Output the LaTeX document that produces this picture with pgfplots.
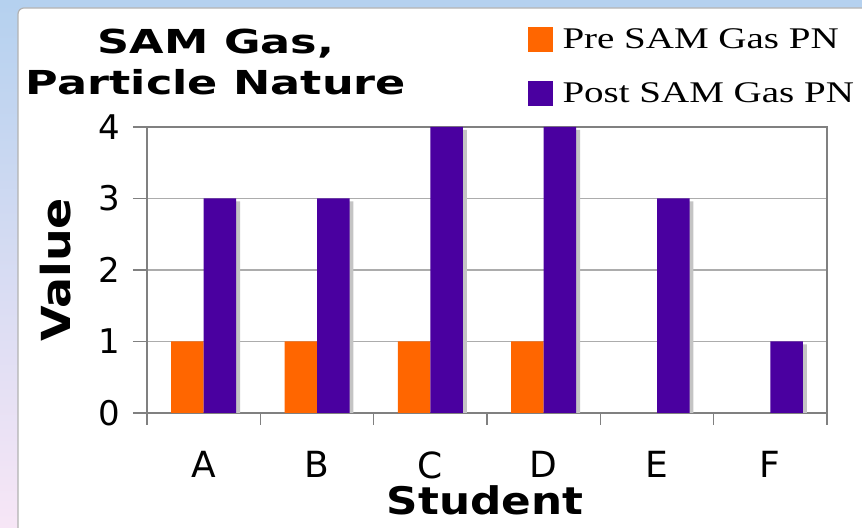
\documentclass[border=0pt]{standalone}
\usepackage{fontspec}
\usepackage{pgfplots}
\pgfplotsset{compat=1.18}
\newfontfamily\titlefont{DejaVu Sans}[FakeStretch=1.35]
\newfontfamily\labelfont{DejaVu Sans}[FakeStretch=1.15]
\newfontfamily\tickfont{DejaVu Sans}
\newfontfamily\legfont{Liberation Serif}[FakeStretch=1.3]
\definecolor{preorange}{HTML}{FF6600}
\definecolor{postpurple}{HTML}{4A00A0}
\definecolor{shadowgray}{HTML}{C4C4C4}
\definecolor{bgblue}{HTML}{B5D1EF}
\definecolor{bgpink}{HTML}{F7E6F6}
\begin{document}
\begin{tikzpicture}
\path[use as bounding box] (0,0) rectangle (431pt,264pt);
\begin{scope}
\clip (0,0) rectangle (431pt,264pt);
\shade[top color=bgblue, bottom color=bgpink] (0,0) rectangle (431pt,264pt);
\fill[bgblue] (0,260pt) rectangle (431pt,264pt);
\filldraw[fill=white, draw=gray!60, line width=0.6pt, rounded corners=3pt] (9pt,-5pt) rectangle (440pt,260pt);
\end{scope}
\node[font=\titlefont\bfseries\fontsize{16.5}{20.5}\selectfont, align=center] at (108pt,233pt) {SAM Gas,\\Particle Nature};
\begin{axis}[
  at={(73.5pt,57.5pt)}, anchor=south west,
  scale only axis, width=340pt, height=143pt,
  ymin=0, ymax=4, xmin=-0.5, xmax=5.5,
  ybar, bar width=16.25pt,
  ytick={0,1,2,3,4},
  xtick={0,1,2,3,4,5}, xticklabels={A,B,C,D,E,F},
  minor xtick={-0.5,0.5,1.5,2.5,3.5,4.5,5.5},
  /pgf/number format/assume math mode=true,
  tick align=outside, xtick pos=bottom, ytick pos=left,
  major x tick style={draw=none},
  minor x tick style={gray, line width=0.6pt},
  major y tick style={gray, line width=0.6pt},
  major tick length=7pt, minor tick length=6pt,
  ymajorgrids, grid style={color=gray!65, line width=0.6pt},
  axis line style={gray, line width=0.7pt},
  xticklabel style={font=\tickfont\fontsize{18}{18}\selectfont, inner sep=0pt, yshift=-12pt},
  yticklabel style={font=\tickfont\fontsize{17}{17}\selectfont, xshift=-3pt},
  xlabel={\bfseries Student},
  ylabel={\bfseries Value},
  xlabel style={font=\labelfont\fontsize{19}{19}\selectfont, inner sep=0pt, at={(axis description cs:0.497,-0.306)}, anchor=center},
  ylabel style={font=\labelfont\fontsize{20}{20}\selectfont, at={(axis description cs:-0.135,0.5)}, anchor=center},
  legend style={at={(axis description cs:0.559,1.35)}, anchor=north west, draw=none, fill=none,
    inner sep=0pt, font=\legfont\fontsize{15}{15}\selectfont, row sep=14.5pt, column sep=5pt,
    nodes={inner sep=0pt, anchor=west}},
  legend image code/.code={\fill[#1] (0pt,-6.25pt) rectangle (12.5pt,6.25pt);},
]
\addplot[fill=preorange, draw=none, bar shift=-8.125pt] coordinates {(0,1) (1,1) (2,1) (3,1)};
\addlegendentry{Pre SAM Gas PN}
\addplot[fill=shadowgray, draw=none, bar shift=10.1pt, yshift=-1.5pt, forget plot] coordinates {(0,3) (1,3) (2,4) (3,4) (4,3) (5,1)};
\addplot[fill=postpurple, draw=none, bar shift=8.125pt] coordinates {(0,3) (1,3) (2,4) (3,4) (4,3) (5,1)};
\addlegendentry{Post SAM Gas PN}
\end{axis}
\end{tikzpicture}
\end{document}
